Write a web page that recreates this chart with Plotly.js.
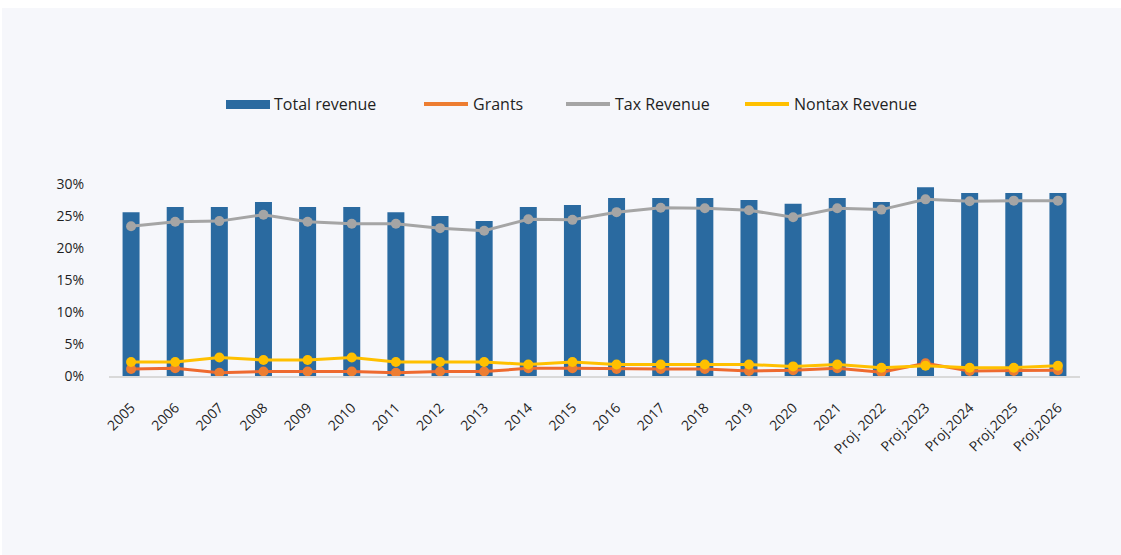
<!DOCTYPE html>
<html>
<head>
<meta charset="utf-8">
<script src="https://cdn.plot.ly/plotly-3.0.1.min.js"></script>
<style>
  html, body { margin: 0; padding: 0; background: #ffffff; width: 1121px; height: 555px; overflow: hidden; }
  #chart { position: absolute; left: 2px; top: 8px; width: 1119px; height: 547px; }
</style>
</head>
<body>
<div id="chart"></div>
<script>
const categories = ["2005","2006","2007","2008","2009","2010","2011","2012","2013","2014","2015","2016","2017","2018","2019","2020","2021","Proj. 2022","Proj.2023","Proj.2024","Proj.2025","Proj.2026"];
const totalRevenue = [25.6, 26.4, 26.4, 27.2, 26.4, 26.4, 25.6, 25.0, 24.2, 26.4, 26.7, 27.8, 27.8, 27.8, 27.5, 26.9, 27.8, 27.2, 29.5, 28.6, 28.6, 28.6];
const grants = [1.1, 1.2, 0.5, 0.7, 0.7, 0.7, 0.5, 0.7, 0.7, 1.2, 1.2, 1.1, 1.1, 1.1, 0.8, 0.9, 1.2, 0.6, 2.0, 0.8, 0.8, 0.9];
const taxRevenue = [23.4, 24.1, 24.2, 25.2, 24.1, 23.8, 23.8, 23.1, 22.7, 24.5, 24.4, 25.6, 26.3, 26.2, 25.9, 24.8, 26.2, 26.0, 27.6, 27.3, 27.4, 27.4];
const nontaxRevenue = [2.2, 2.2, 2.9, 2.5, 2.5, 2.9, 2.2, 2.2, 2.2, 1.8, 2.2, 1.8, 1.8, 1.8, 1.8, 1.5, 1.8, 1.3, 1.6, 1.3, 1.3, 1.6];
const yTicks = [0, 5, 10, 15, 20, 25, 30];
const yTickLabels = ["0%", "5%", "10%", "15%", "20%", "25%", "30%"];

const FONT = "'Open Sans', sans-serif";
const TEXT = '#1f1f1f';
const C_BAR = '#2a6aa0', C_GRANT_LINE = '#ee6a2f', C_GRANT = '#ed7d31', C_TAX = '#a5a5a5', C_NONTAX = '#ffc000';

function lineSeries(name, values, lineColor, markerColor) {
  return {
    type: 'scatter', mode: 'lines+markers', name: name, x: categories, y: values,
    line: { color: lineColor, width: 3 }, marker: { color: markerColor, size: 10 },
    showlegend: false, cliponaxis: false, legendgroup: name
  };
}
function legendEntry(name, color, legendId) {
  return {
    type: 'scatter', mode: 'lines', name: name, x: [null], y: [null],
    line: { color: color, width: 4 }, legend: legendId, legendgroup: name, hoverinfo: 'skip'
  };
}

const traces = [
  { type: 'bar', name: 'Total revenue', x: categories, y: totalRevenue, marker: { color: C_BAR }, showlegend: false },
  lineSeries('Grants', grants, C_GRANT_LINE, C_GRANT),
  lineSeries('Tax Revenue', taxRevenue, C_TAX, C_TAX),
  lineSeries('Nontax Revenue', nontaxRevenue, C_NONTAX, C_NONTAX),
  legendEntry('Grants', C_GRANT, 'legend2'),
  legendEntry('Tax Revenue', C_TAX, 'legend3'),
  legendEntry('Nontax Revenue', C_NONTAX, 'legend4')
];

// plot area: page x 109..1080, y 184..376 ; div offset (2, 8)
const plotL = 107, plotW = 971, plotT = 176, plotH = 192;
function lx(px) { return (px - 2 - plotL) / plotW; }
function ly(py) { return 1 + (plotT - (py - 8)) / plotH; }
const legY = ly(104);
function legendAt(px) {
  return {
    orientation: 'h', x: lx(px), xanchor: 'left', y: legY, yanchor: 'middle',
    bgcolor: 'rgba(0,0,0,0)', borderwidth: 0, itemwidth: 44,
    font: { family: FONT, size: 16, color: TEXT }
  };
}

const layout = {
  width: 1119, height: 547,
  paper_bgcolor: '#f6f7fb', plot_bgcolor: 'rgba(0,0,0,0)',
  margin: { l: plotL, r: 41, t: plotT, b: 179, pad: 0 },
  font: { family: FONT, size: 14, color: TEXT },
  showlegend: true,
  legend: legendAt(0),
  legend2: legendAt(419),
  legend3: legendAt(561),
  legend4: legendAt(740),
  shapes: [
    { type: 'rect', xref: 'paper', yref: 'paper', x0: lx(226), x1: lx(270), y0: ly(109), y1: ly(100),
      fillcolor: C_BAR, line: { width: 0 }, layer: 'above' }
  ],
  annotations: [
    { xref: 'paper', yref: 'paper', x: lx(272), y: legY, xanchor: 'left', yanchor: 'middle',
      text: 'Total revenue', showarrow: false, font: { family: FONT, size: 16, color: TEXT } }
  ],
  bargap: 0.615,
  xaxis: {
    type: 'category', range: [-0.5, 21.5], tickangle: -45, showgrid: false, zeroline: false,
    showline: true, linecolor: '#d9d9d9', linewidth: 2, ticks: '',
    ticklabelstandoff: 16,
    tickfont: { family: FONT, size: 14, color: TEXT }, automargin: false
  },
  yaxis: {
    range: [0, 30], tickvals: yTicks, ticktext: yTickLabels,
    showgrid: false, zeroline: false, showline: false, ticks: '',
    ticklabelstandoff: 24,
    tickfont: { family: FONT, size: 14, color: TEXT }, automargin: false
  }
};

Plotly.newPlot('chart', traces, layout, { displayModeBar: false, staticPlot: true });
</script>
</body>
</html>
